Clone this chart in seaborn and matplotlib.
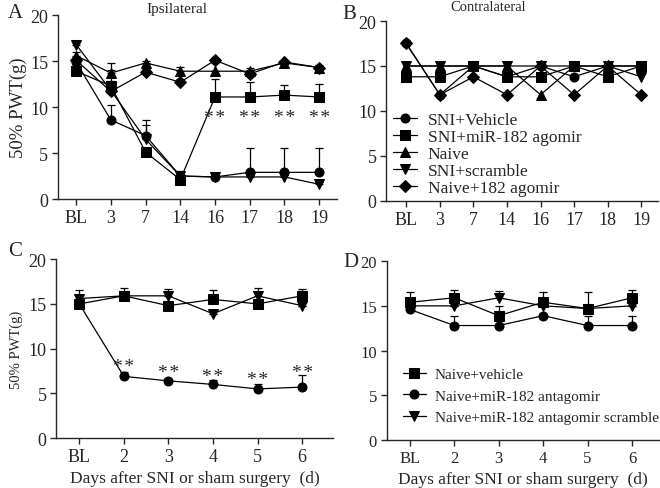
import matplotlib
matplotlib.use('Agg')
import matplotlib.pyplot as plt
import seaborn as sns
import numpy as np

# top panels: days after SNI
days_top = ['BL', '3', '7', '14', '16', '17', '18', '19']
# bottom panels: days after injection
days_bot = ['BL', '2', '3', '4', '5', '6']

# A - ipsilateral
ipsi_names = ['SNI+Vehicle', 'SNI+miR-182 agomir', 'Naive', 'SNI+scramble', 'Naive+182 agomir']
ipsi_vals = [
    [14.9, 8.6, 6.9, 2.5, 2.4, 2.9, 2.9, 2.9],
    [13.9, 12.3, 5.1, 2.1, 11.1, 11.1, 11.3, 11.1],
    [15.6, 13.7, 14.8, 13.9, 13.9, 13.9, 14.8, 14.3],
    [16.8, 11.8, 6.5, 2.5, 2.4, 2.4, 2.4, 1.6],
    [15.1, 11.7, 13.8, 12.7, 15.1, 13.6, 14.9, 14.3],
]
ipsi_err = [
    [0.3, 1.6, 1.7, 0.4, 0.3, 2.6, 2.6, 2.6],
    [0.3, 0.5, 0.3, 0.5, 1.9, 1.6, 1.1, 1.4],
    [0.4, 0.3, 0.2, 0.5, 0.9, 0.4, 0.2, 0.3],
    [0.3, 0.5, 1.5, 0.5, 0.2, 0.2, 0.2, 0.2],
    [0.3, 3.1, 0.3, 0.3, 0.2, 0.4, 0.2, 0.2],
]
ipsi_stars = [4, 5, 6, 7]
ipsi_star_y = [9.4, 9.4, 9.4, 9.4]

# B - contralateral
contra_vals = [
    [17.5, 11.8, 15.0, 13.8, 15.0, 13.8, 15.0, 15.0],
    [13.8, 13.8, 15.0, 13.8, 13.8, 15.0, 13.8, 15.0],
    [15.0, 15.0, 15.0, 15.0, 11.8, 15.0, 15.0, 15.0],
    [15.0, 15.0, 15.0, 15.0, 15.0, 15.0, 15.0, 13.8],
    [17.5, 11.8, 13.8, 11.8, 15.0, 11.8, 15.0, 11.8],
]

# C / D - antagomir
anta_names = ['Naive+vehicle', 'Naive+miR-182 antagomir', 'Naive+miR-182 antagomir scramble']
c_vals = [
    [15.0, 15.9, 14.8, 15.5, 15.0, 15.9],
    [15.0, 6.9, 6.4, 6.0, 5.5, 5.7],
    [15.6, 15.9, 15.9, 13.9, 15.9, 14.8],
]
c_err = [
    [1.6, 0.9, 0.0, 1.1, 0.0, 0.8],
    [0.0, 0.5, 0.2, 0.5, 0.6, 1.4],
    [0.0, 0.0, 0.8, 0.0, 0.9, 0.0],
]
c_stars = [1, 2, 3, 4, 5]
c_star_y = [8.5, 7.9, 7.4, 7.1, 7.9]

d_vals = [
    [15.4, 15.9, 13.9, 15.4, 14.7, 15.9],
    [14.6, 12.8, 12.8, 13.9, 12.8, 12.8],
    [15.0, 15.0, 15.9, 15.0, 14.7, 15.0],
]
d_err = [
    [1.2, 0.9, 1.1, 1.2, 1.8, 0.9],
    [0.0, 1.1, 0.0, 0.0, 1.1, 1.1],
    [0.0, 0.0, 0.8, 0.0, 0.0, 0.0],
]

mk_top = ['o', 's', '^', 'v', 'D']
mk_bot = ['s', 'o', 'v']

sns.set_style('ticks')
plt.rcParams['font.family'] = ['Liberation Serif', 'DejaVu Serif']
plt.rcParams['axes.linewidth'] = 1.0


def draw(ax, labels, vals, errs, names, mks):
    x = np.arange(len(labels))
    for i, v in enumerate(vals):
        ms = 6.0 if mks[i] == 'D' else 6.5
        sns.lineplot(x=x, y=v, ax=ax, color='black', marker=mks[i], markersize=ms,
                     markeredgecolor='black', lw=0.9, label=names[i], zorder=3)
        if errs is not None:
            e = np.array(errs[i])
            ax.errorbar(x, v, yerr=[np.zeros_like(e), e], fmt='none', ecolor='black',
                        elinewidth=0.9, capsize=3, capthick=0.9, zorder=2)
    ax.set_xticks(x)
    ax.set_xticklabels(labels)
    ax.set_ylim(0, 20)
    ax.set_yticks([0, 5, 10, 15, 20])
    ax.tick_params(labelsize=13, length=4, width=1, direction='out', pad=3)
    sns.despine(ax=ax)


def stars(ax, xs, ys):
    for i, yy in zip(xs, ys):
        ax.text(i, yy - 1.05, '*\u200a*', ha='center', va='baseline', fontsize=14)


fig = plt.figure(figsize=(6.6, 4.89), dpi=100)
axA = fig.add_axes([0.088, 0.591, 0.423, 0.376])
axB = fig.add_axes([0.585, 0.587, 0.412, 0.368])
axC = fig.add_axes([0.085, 0.102, 0.420, 0.366])
axD = fig.add_axes([0.586, 0.098, 0.412, 0.366])

draw(axA, days_top, ipsi_vals, ipsi_err, ipsi_names, mk_top)
draw(axB, days_top, contra_vals, None, ipsi_names, mk_top)
draw(axC, days_bot, c_vals, c_err, anta_names, mk_bot)
draw(axD, days_bot, d_vals, d_err, anta_names, mk_bot)
axD.tick_params(labelsize=12)

axA.set_xlim(-0.52, 7.52)
axB.set_xlim(-0.6, 7.5)
axC.set_xlim(-0.52, 5.7)
axD.set_xlim(-0.52, 5.6)

axA.get_legend().remove()
axC.get_legend().remove()
axB.legend(loc='lower left', bbox_to_anchor=(-0.02, -0.04), frameon=False, fontsize=12.5,
           handlelength=1.4, labelspacing=0.05, borderaxespad=0.3, handletextpad=0.6)
axD.legend(loc='lower left', bbox_to_anchor=(0.02, 0.03), frameon=False, fontsize=11,
           handlelength=1.5, labelspacing=0.5, borderaxespad=0.3, handletextpad=0.6)

axA.set_ylabel('50% PWT(g)', fontsize=13.5, labelpad=2)
axC.set_ylabel('50% PWT(g)', fontsize=10.5, labelpad=4)
for ax in (axC, axD):
    ax.set_xlabel('Days after SNI or sham surgery  (d)', fontsize=12.5, labelpad=4)

fig.text(0.268, 0.980, 'Ipsilateral', fontsize=11, ha='center', va='center')
fig.text(0.739, 0.984, 'Contralateral', fontsize=10.5, ha='center', va='center')

stars(axA, ipsi_stars, ipsi_star_y)
stars(axC, c_stars, c_star_y)

fig.text(0.012, 0.992, 'A', fontsize=15, va='top')
fig.text(0.518, 0.99, 'B', fontsize=15, va='top')
fig.text(0.012, 0.505, 'C', fontsize=15, va='top')
fig.text(0.52, 0.482, 'D', fontsize=15, va='top')

fig.savefig('out.png', dpi=100)
plt.close()
